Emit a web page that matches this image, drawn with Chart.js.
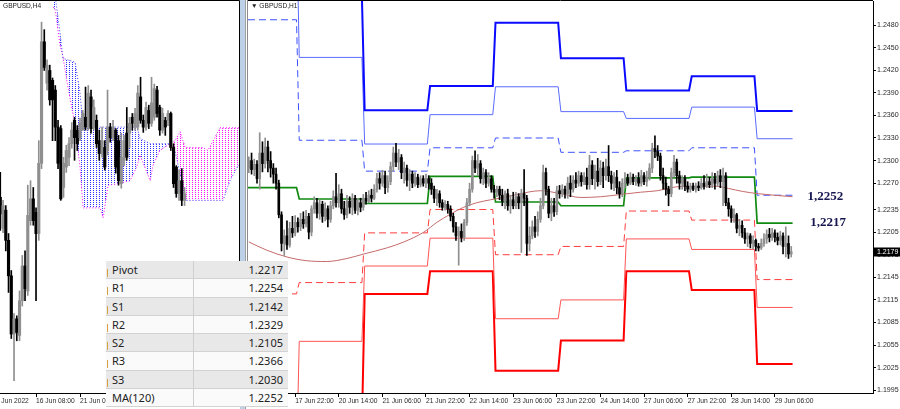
<!DOCTYPE html>
<html><head><meta charset="utf-8">
<script src="https://cdn.jsdelivr.net/npm/chart.js@4.4.1/dist/chart.umd.min.js"></script>
<style>
html,body{margin:0;padding:0;background:#fff;width:900px;height:409px;overflow:hidden;position:relative;font-family:'Liberation Sans',Arial,sans-serif}
canvas{position:absolute;top:0}
#cl{left:0}
#cr{left:246px}
#split{position:absolute;left:240px;top:0;width:5px;height:409px;background:#bcd0e8}
#split2{position:absolute;left:245px;top:0;width:1px;height:409px;background:#a0a0a0}
.ttl{position:absolute;font-size:6.6px;color:#222;white-space:nowrap}
#tbl{position:absolute;left:106px;top:261px;width:182px;font-family:'Noto Sans',sans-serif;font-size:11px;color:#222}
.row{display:flex;height:17.25px;border-bottom:1px solid #d2d2d2;align-items:center}
.row.g{background:#e8e8e8}
.row.w{background:#fafafa}
.c1{width:88px;height:100%;border-right:1px solid #cfcfcf;padding-left:6px;box-sizing:border-box;position:relative;display:flex;align-items:center}
.c1.m::before{content:'';position:absolute;left:1px;top:8px;width:1px;height:8px;background:#d6a043}
.c2{flex:1;text-align:right;padding-right:5px}
</style>
</head><body>
<canvas id="cl" width="240" height="409"></canvas>
<div id="split"></div><div id="split2"></div>
<canvas id="cr" width="654" height="409"></canvas>
<div class="ttl" style="left:3px;top:2px">GBPUSD,H4</div>
<div class="ttl" style="left:251px;top:2px">&#9660; GBPUSD,H1</div>
<div id="tbl"></div>
<script>
// ---------------- DATA ----------------
// Right panel: GBPUSD H1 candles, bar index -17 .. 182 (index 0 = 17 Jun 22:00)
const rFirst = -17;
const rOpen = [1.2290,1.2300,1.2288,1.2295,1.2276,1.2310,1.2296,1.2318,1.2300,1.2290,
1.2282,1.2270,1.2228,1.2190,1.2200,1.2188,1.2210,
1.2204,1.2218,1.2212,1.2222,1.2216,1.2226,1.2205,1.2236,1.2244,1.2230,
1.2242,1.2226,1.2236,1.2222,1.2240,1.2252,1.2244,1.2256,1.2236,1.2228,
1.2246,1.2238,1.2250,1.2234,1.2244,1.2238,1.2250,1.2246,1.2254,1.2250,
1.2262,1.2276,1.2270,1.2280,1.2264,1.2272,1.2292,1.2310,1.2298,1.2304,
1.2284,1.2290,1.2274,1.2282,1.2270,1.2278,1.2268,1.2276,1.2270,1.2276,
1.2270,1.2262,1.2250,1.2256,1.2244,1.2238,1.2242,1.2236,1.2226,1.2212,
1.2200,1.2206,1.2198,1.2218,1.2244,1.2262,1.2300,1.2290,1.2296,1.2276,
1.2284,1.2270,1.2276,1.2262,1.2258,1.2262,1.2254,1.2246,1.2256,1.2240,
1.2248,1.2240,1.2252,1.2244,1.2256,1.2250,1.2190,1.2200,1.2212,1.2206,
1.2222,1.2240,1.2284,1.2262,1.2230,1.2240,1.2232,1.2260,1.2256,1.2262,
1.2256,1.2270,1.2262,1.2274,1.2270,1.2280,1.2272,1.2278,1.2268,1.2294,
1.2276,1.2286,1.2272,1.2290,1.2280,1.2292,1.2280,1.2270,1.2278,1.2264,
1.2256,1.2270,1.2276,1.2270,1.2278,1.2272,1.2276,1.2270,1.2280,1.2272,
1.2278,1.2290,1.2316,1.2312,1.2306,1.2280,1.2270,1.2262,1.2256,1.2284,
1.2298,1.2280,1.2270,1.2276,1.2266,1.2262,1.2266,1.2262,1.2266,1.2264,
1.2270,1.2266,1.2272,1.2268,1.2276,1.2270,1.2280,1.2272,1.2280,1.2244,
1.2236,1.2224,1.2228,1.2210,1.2214,1.2204,1.2196,1.2200,1.2190,1.2194,
1.2186,1.2184,1.2190,1.2196,1.2202,1.2198,1.2204,1.2198,1.2194,1.2200,
1.2186,1.2190,1.2176];
const rHigh = [1.2305,1.2310,1.2302,1.2300,1.2337,1.2325,1.2330,1.2326,1.2312,1.2296,
1.2290,1.2274,1.2232,1.2208,1.2220,1.2218,1.2226,
1.2227,1.2224,1.2230,1.2232,1.2234,1.2230,1.2240,1.2252,1.2250,1.2248,
1.2246,1.2244,1.2240,1.2246,1.2260,1.2283,1.2268,1.2262,1.2246,1.2254,
1.2252,1.2256,1.2254,1.2250,1.2250,1.2255,1.2258,1.2260,1.2262,1.2268,
1.2283,1.2284,1.2287,1.2286,1.2280,1.2298,1.2318,1.2323,1.2315,1.2308,
1.2298,1.2294,1.2288,1.2286,1.2284,1.2282,1.2280,1.2280,1.2282,1.2280,
1.2276,1.2266,1.2262,1.2260,1.2248,1.2247,1.2246,1.2240,1.2230,1.2218,
1.2212,1.2216,1.2222,1.2250,1.2270,1.2306,1.2313,1.2308,1.2300,1.2290,
1.2288,1.2284,1.2280,1.2267,1.2266,1.2266,1.2262,1.2260,1.2262,1.2254,
1.2258,1.2258,1.2256,1.2262,1.2288,1.2254,1.2212,1.2220,1.2226,1.2232,
1.2250,1.2294,1.2290,1.2266,1.2250,1.2250,1.2266,1.2267,1.2268,1.2266,
1.2278,1.2280,1.2280,1.2284,1.2286,1.2284,1.2284,1.2290,1.2307,1.2300,
1.2294,1.2303,1.2300,1.2298,1.2302,1.2320,1.2286,1.2284,1.2287,1.2272,
1.2276,1.2284,1.2282,1.2284,1.2282,1.2280,1.2284,1.2287,1.2284,1.2286,
1.2296,1.2323,1.2333,1.2320,1.2310,1.2290,1.2278,1.2266,1.2290,1.2307,
1.2302,1.2286,1.2280,1.2280,1.2272,1.2270,1.2270,1.2270,1.2272,1.2276,
1.2280,1.2282,1.2278,1.2284,1.2283,1.2286,1.2288,1.2290,1.2284,1.2250,
1.2240,1.2236,1.2230,1.2222,1.2220,1.2210,1.2204,1.2203,1.2200,1.2196,
1.2190,1.2196,1.2203,1.2208,1.2210,1.2210,1.2208,1.2204,1.2206,1.2204,
1.2212,1.2200,1.2186];
const rLow = [1.2284,1.2282,1.2280,1.2270,1.2262,1.2285,1.2290,1.2285,1.2278,1.2270,
1.2262,1.2224,1.2180,1.2174,1.2182,1.2185,1.2198,
1.2200,1.2205,1.2207,1.2210,1.2212,1.2196,1.2200,1.2230,1.2224,1.2222,
1.2218,1.2220,1.2212,1.2218,1.2236,1.2238,1.2238,1.2230,1.2222,1.2224,
1.2230,1.2228,1.2230,1.2228,1.2232,1.2234,1.2242,1.2244,1.2245,1.2248,
1.2258,1.2262,1.2266,1.2256,1.2258,1.2268,1.2286,1.2292,1.2288,1.2276,
1.2270,1.2266,1.2260,1.2264,1.2266,1.2264,1.2265,1.2266,1.2264,1.2262,
1.2255,1.2244,1.2240,1.2238,1.2234,1.2234,1.2230,1.2220,1.2205,1.2194,
1.2161,1.2192,1.2194,1.2214,1.2240,1.2258,1.2284,1.2280,1.2270,1.2268,
1.2264,1.2266,1.2258,1.2250,1.2252,1.2248,1.2240,1.2236,1.2234,1.2230,
1.2236,1.2236,1.2236,1.2178,1.2240,1.2174,1.2180,1.2196,1.2198,1.2200,
1.2218,1.2236,1.2254,1.2224,1.2220,1.2226,1.2228,1.2250,1.2252,1.2250,
1.2250,1.2252,1.2258,1.2264,1.2266,1.2266,1.2268,1.2262,1.2262,1.2268,
1.2262,1.2266,1.2268,1.2264,1.2274,1.2272,1.2262,1.2260,1.2256,1.2250,
1.2252,1.2264,1.2267,1.2268,1.2268,1.2267,1.2266,1.2266,1.2268,1.2266,
1.2274,1.2284,1.2304,1.2300,1.2274,1.2262,1.2254,1.2240,1.2252,1.2278,
1.2270,1.2262,1.2262,1.2260,1.2258,1.2258,1.2260,1.2258,1.2260,1.2262,
1.2262,1.2264,1.2264,1.2264,1.2262,1.2266,1.2264,1.2240,1.2240,1.2226,
1.2218,1.2218,1.2204,1.2200,1.2198,1.2190,1.2186,1.2184,1.2183,1.2180,
1.2180,1.2182,1.2186,1.2190,1.2192,1.2194,1.2192,1.2188,1.2188,1.2176,
1.2172,1.2170,1.2172];
const rClose = [1.2300,1.2288,1.2295,1.2276,1.2310,1.2296,1.2318,1.2300,1.2290,1.2282,
1.2270,1.2228,1.2190,1.2200,1.2188,1.2210,1.2204,
1.2218,1.2212,1.2222,1.2216,1.2226,1.2205,1.2236,1.2244,1.2230,1.2242,
1.2226,1.2236,1.2222,1.2240,1.2252,1.2244,1.2256,1.2236,1.2228,1.2246,
1.2238,1.2250,1.2234,1.2244,1.2238,1.2250,1.2246,1.2254,1.2250,1.2262,
1.2276,1.2270,1.2280,1.2264,1.2272,1.2292,1.2310,1.2298,1.2304,1.2284,
1.2290,1.2274,1.2282,1.2270,1.2278,1.2268,1.2276,1.2270,1.2276,1.2270,
1.2262,1.2250,1.2256,1.2244,1.2238,1.2242,1.2236,1.2226,1.2212,1.2200,
1.2206,1.2198,1.2218,1.2244,1.2262,1.2300,1.2290,1.2296,1.2276,1.2284,
1.2270,1.2276,1.2262,1.2258,1.2262,1.2254,1.2246,1.2256,1.2240,1.2248,
1.2240,1.2252,1.2244,1.2256,1.2250,1.2190,1.2200,1.2212,1.2206,1.2222,
1.2240,1.2284,1.2262,1.2230,1.2240,1.2232,1.2260,1.2256,1.2262,1.2256,
1.2270,1.2262,1.2274,1.2270,1.2280,1.2272,1.2278,1.2268,1.2294,1.2276,
1.2286,1.2272,1.2290,1.2280,1.2292,1.2280,1.2270,1.2278,1.2264,1.2256,
1.2270,1.2276,1.2270,1.2278,1.2272,1.2276,1.2270,1.2280,1.2272,1.2278,
1.2290,1.2316,1.2312,1.2306,1.2280,1.2270,1.2262,1.2256,1.2284,1.2298,
1.2280,1.2270,1.2276,1.2266,1.2262,1.2266,1.2262,1.2266,1.2264,1.2270,
1.2266,1.2272,1.2268,1.2276,1.2270,1.2280,1.2272,1.2280,1.2244,1.2236,
1.2224,1.2228,1.2210,1.2214,1.2204,1.2196,1.2200,1.2190,1.2194,1.2186,
1.2184,1.2190,1.2196,1.2202,1.2198,1.2204,1.2198,1.2194,1.2200,1.2186,
1.2190,1.2176,1.2179];

// Daily pivot levels (day start bar index)
const dayStart = [-17.3, 1.5, 25.5, 49.5, 73.5, 97.5, 121.5, 145.5, 169.5];
const levelEnd = 182.5;
const pivotP = [1.2264,1.2249,1.2243,1.2279,1.2245,1.2240,1.2277,1.2278,1.2217];
const r1 = [1.2487,1.2327,1.2286,1.2317,1.2330,1.2311,1.2313,1.2317,1.2254];
const r2 = [1.2628,1.2437,1.2322,1.2361,1.2398,1.2365,1.2356,1.2371,1.2329];
const r3 = [1.2851,1.2516,1.2367,1.2399,1.2483,1.2436,1.2393,1.2412,1.2366];
const s1 = [1.2123,1.2138,1.2204,1.2235,1.2175,1.2186,1.2233,1.2221,1.2142];
const s2 = [1.1900,1.2060,1.2160,1.2197,1.2090,1.2115,1.2196,1.2182,1.2105];
const s3 = [1.1759,1.1949,1.2123,1.2153,1.2021,1.2061,1.2153,1.2128,1.2030];

// MA(120)
const maX = [-17,-10.4,-3,4.3,11.6,19,25.2,33.6,39.9,47.2,52,57,61.8,66.6,71.8,76.5,81.3,90.1,97.5,104.8,112.1,119.4,126.7,132.9,139.6,147,154.3,159,164.2,170,182.5];
const maV = [1.2192,1.2181,1.2172,1.2167,1.2166,1.2170,1.2176,1.2184,1.2192,1.2205,1.2218,1.2229,1.2238,1.2244,1.2248,1.2251,1.2255,1.2260,1.2256,1.2251,1.2252,1.2255,1.2258,1.2260,1.2265,1.2266,1.2266,1.2263,1.2259,1.2256,1.2252];

const xTickIdx = [0,16,32,48,64,80,96,112,128,144,160,176];
const xTickLabels = ['17 Jun 22:00','20 Jun 14:00','21 Jun 06:00','21 Jun 22:00','22 Jun 14:00','23 Jun 06:00','23 Jun 22:00','24 Jun 14:00','27 Jun 06:00','27 Jun 22:00','28 Jun 14:00','29 Jun 06:00'];
const yTicks = [1.2480,1.2450,1.2420,1.2390,1.2360,1.2330,1.2300,1.2270,1.2235,1.2205,1.2175,1.2145,1.2115,1.2085,1.2055,1.2025,1.1995];
const tagValues = [1.2252, 1.2217];
const tagTexts = ['1,2252', '1,2217'];
const tagIdx = [188, 189];

// Left panel: GBPUSD H4 candles, bar index -13 .. 54 (index 0 = 16 Jun 08:00)
const lFirst = -13;
const lOpen = [1.2174,1.2133,1.2157,1.2117,1.2070,1.1993,1.2013,1.1991,1.2037,1.2083,
1.2050,1.2143,1.2172,
1.2154,1.2126,1.2219,1.2380,1.2325,1.2342,1.2329,1.2316,1.2267,1.2265,
1.2187,1.2214,1.2227,1.2245,1.2276,1.2263,1.2253,1.2263,1.2280,1.2267,
1.2307,1.2267,1.2276,1.2249,1.2232,1.2240,1.2236,1.2267,1.2253,1.2263,
1.2249,1.2192,1.2223,1.2259,1.2259,1.2280,1.2267,1.2267,1.2307,1.2276,
1.2267,1.2289,1.2272,1.2280,1.2316,1.2293,1.2263,1.2276,1.2276,1.2285,
1.2240,1.2214,1.2179,1.2196,1.2170];
const lHigh = [1.2207,1.2170,1.2163,1.2126,1.2077,1.2020,1.2017,1.2050,1.2097,1.2103,
1.2190,1.2196,1.2187,
1.2160,1.2249,1.2406,1.2396,1.2356,1.2349,1.2332,1.2322,1.2276,1.2269,
1.2227,1.2243,1.2253,1.2273,1.2280,1.2269,1.2279,1.2289,1.2320,1.2322,
1.2316,1.2303,1.2283,1.2263,1.2267,1.2249,1.2316,1.2272,1.2276,1.2265,
1.2256,1.2259,1.2256,1.2293,1.2280,1.2285,1.2292,1.2322,1.2333,1.2283,
1.2300,1.2296,1.2333,1.2324,1.2321,1.2296,1.2292,1.2280,1.2289,1.2287,
1.2245,1.2216,1.2210,1.2212,1.2187];
const lLow = [1.2130,1.2127,1.2103,1.2048,1.1987,1.1931,1.1984,1.1984,1.2030,1.2037,
1.2044,1.2137,1.2137,
1.2037,1.2117,1.2212,1.2342,1.2316,1.2296,1.2249,1.2249,1.2212,1.2170,
1.2174,1.2207,1.2216,1.2239,1.2223,1.2236,1.2249,1.2263,1.2263,1.2263,
1.2259,1.2263,1.2240,1.2223,1.2227,1.2210,1.2230,1.2247,1.2249,1.2206,
1.2190,1.2186,1.2216,1.2223,1.2240,1.2263,1.2263,1.2263,1.2272,1.2260,
1.2263,1.2265,1.2268,1.2276,1.2280,1.2256,1.2259,1.2256,1.2269,1.2236,
1.2187,1.2174,1.2170,1.2163,1.2163];
const lClose = [1.2152,1.2163,1.2117,1.2070,1.1993,1.2013,1.1995,1.2037,1.2083,1.2053,
1.2150,1.2172,1.2143,
1.2126,1.2219,1.2380,1.2346,1.2349,1.2303,1.2303,1.2267,1.2219,1.2172,
1.2219,1.2236,1.2245,1.2263,1.2253,1.2245,1.2272,1.2285,1.2267,1.2312,
1.2265,1.2293,1.2245,1.2232,1.2249,1.2214,1.2267,1.2253,1.2267,1.2214,
1.2196,1.2227,1.2249,1.2227,1.2272,1.2272,1.2285,1.2312,1.2276,1.2267,
1.2293,1.2272,1.2299,1.2318,1.2285,1.2263,1.2285,1.2267,1.2285,1.2240,
1.2192,1.2179,1.2196,1.2170,1.2179];

// Ichimoku cloud (Senkou Span A / B), read at these bar positions
const cloudJ = [6.2,7,8.7,9.8,11.6,14.2,16,17.1,23.3,24.4,26.2,29.8,34.2,36.7,37.8,41.5,42.5,45,48.7,50.5,52.4,54.2,60.7,62.5,66.9,68,70.5,73.5,75];
const spanA = [1.2450,1.2440,1.2392,1.2358,1.2356,1.2353,1.2312,1.2267,1.2267,1.2267,1.2267,1.2267,1.2267,1.2267,1.2252,1.2245,1.2245,1.2245,1.2245,1.2236,1.2205,1.2170,1.2170,1.2170,1.2170,1.2170,1.2196,1.2216,1.2216];
const spanB = [1.2426,1.2422,1.2376,1.2360,1.2320,1.2270,1.2214,1.2160,1.2160,1.2147,1.2190,1.2192,1.2196,1.2215,1.2230,1.2196,1.2216,1.2236,1.2245,1.2249,1.2261,1.2240,1.2240,1.2236,1.2266,1.2266,1.2266,1.2266,1.2266];

const lxTickIdx = [-16, 0, 16];
const lxTickLabels = ['13 Jun 2022', '16 Jun 08:00', '21 Jun 00:00'];

// Table
const tableLabels = ['Pivot','R1','S1','R2','S2','R3','S3','MA(120)'];
const tableValues = [1.2217,1.2254,1.2142,1.2329,1.2105,1.2366,1.2030,1.2252];

// ---------------- BUILD ----------------
const BULL = '#8f8f8f', BEAR = '#000000';
const AXIS_FONT = {family:"'Liberation Sans', Arial, sans-serif", size:6.7};

function noPad(s){ s.paddingTop = 0; s.paddingBottom = 0; s.paddingLeft = 0; s.paddingRight = 0; }

function candleSets(first, O, H, L, C, bodyW){
  const col = O.map((o,k)=> C[k] >= o ? BULL : BEAR);
  return [
    {type:'bar', data:O.map((o,k)=>({x:first+k, y:[L[k],H[k]]})), backgroundColor:col, barThickness:1, grouped:false, order:0, borderWidth:0},
    {type:'bar', data:O.map((o,k)=>({x:first+k, y:[Math.min(o,C[k]),Math.max(o,C[k])]})), backgroundColor:col, barThickness:bodyW, minBarLength:1, grouped:false, order:0, borderWidth:0}
  ];
}
function steps(vals){
  const p=[];
  vals.forEach((v,d)=>{
    const s = dayStart[d];
    const e = d < vals.length-1 ? dayStart[d+1]-1 : levelEnd;
    p.push({x:s,y:v},{x:e,y:v});
  });
  return p;
}
function lvl(vals, color, w, dash){
  return {type:'line', data:steps(vals), borderColor:color, borderWidth:w, borderDash:dash||[], pointRadius:0, fill:false, tension:0, order:3};
}
function xAxis(min,max,idx,labels){
  return {type:'linear', min, max, offset:false, position:'bottom',
    afterBuildTicks: s=>{ s.ticks = idx.map(v=>({value:v})); },
    afterFit: s=>{ s.height = 16; noPad(s); },
    ticks:{autoSkip:false, maxRotation:0, minRotation:0, align:'start', padding:0, color:'#2a2a2a', font:AXIS_FONT,
      callback:(v,i)=>labels[i]},
    grid:{display:true, drawOnChartArea:false, drawTicks:true, tickLength:4, color:'#000', offset:false},
    border:{display:true, color:'#000'}};
}

// Right chart
const frameR = {id:'frameR', afterDraw(c){
  const ctx=c.ctx, a=c.chartArea, ys=c.scales.y, xs=c.scales.x;
  ctx.save();
  ctx.strokeStyle='#000'; ctx.lineWidth=1;
  ctx.beginPath(); ctx.moveTo(a.left, a.top-0.5); ctx.lineTo(a.right, a.top-0.5); ctx.stroke();
  ctx.strokeStyle='#8a8a8a';
  ctx.beginPath(); ctx.moveTo(a.left-0.5, 0); ctx.lineTo(a.left-0.5, a.bottom); ctx.stroke();
  // level tags
  ctx.fillStyle='#161650'; ctx.font="bold 13px 'Liberation Serif', 'Times New Roman', serif"; ctx.textBaseline='middle'; ctx.textAlign='left';
  tagValues.forEach((v,k)=>{ ctx.fillText(tagTexts[k], xs.getPixelForValue(tagIdx[k]), ys.getPixelForValue(v)); });
  // current price box
  const last = rClose[rClose.length-1];
  const py = Math.round(ys.getPixelForValue(last));
  ctx.fillStyle='#000'; ctx.fillRect(a.right+1, py-4.5, c.width-a.right-1, 9);
  ctx.fillStyle='#fff'; ctx.font="7px 'Liberation Sans', Arial, sans-serif"; ctx.textBaseline='middle';
  ctx.fillText(last.toFixed(4), a.right+4, py+0.5);
  ctx.restore();
}};

const rDatasets = [
  ...candleSets(rFirst, rOpen, rHigh, rLow, rClose, 2),
  {type:'line', data:maX.map((x,k)=>({x, y:maV[k]})), borderColor:'#c56a6a', borderWidth:1, pointRadius:0, fill:false, cubicInterpolationMode:'monotone', order:2},
  lvl(r3,'#0a0aff',2), lvl(r2,'#5a6aff',1), lvl(r1,'#3d52ff',1,[7,4]),
  lvl(pivotP,'#118a11',1.7),
  lvl(s1,'#ff3c3c',1,[7,4]), lvl(s2,'#ff5555',1), lvl(s3,'#ff0000',2)
];

new Chart(document.getElementById('cr'), {
  type:'bar',
  data:{datasets:rDatasets},
  options:{responsive:false, animation:false, devicePixelRatio:1,
    layout:{padding:{left:2, top:1, right:0, bottom:0}},
    plugins:{legend:{display:false}, tooltip:{enabled:false}},
    scales:{
      x: xAxis(-17.3, 212.0, xTickIdx, xTickLabels),
      y: {type:'linear', position:'right', min:1.19914, max:1.25119,
        afterBuildTicks: s=>{ s.ticks = yTicks.map(v=>({value:v})); },
        afterFit: s=>{ s.width = 27; noPad(s); },
        ticks:{padding:1, color:'#2a2a2a', font:{family:AXIS_FONT.family, size:7.1}, callback:v=>Number(v).toFixed(4)},
        grid:{display:true, drawOnChartArea:false, drawTicks:true, tickLength:3, color:'#000'},
        border:{display:true, color:'#000'}}
    }},
  plugins:[frameR]
});

// Left chart
const lctx = document.getElementById('cl').getContext('2d');
function dotPattern(color){
  const c=document.createElement('canvas'); c.width=3; c.height=2;
  const g=c.getContext('2d'); g.fillStyle=color; g.fillRect(0,0,1,1);
  return lctx.createPattern(c,'repeat');
}
const frameL = {id:'frameL', afterDraw(c){
  const ctx=c.ctx, a=c.chartArea;
  ctx.save(); ctx.strokeStyle='#000'; ctx.lineWidth=1;
  ctx.beginPath(); ctx.moveTo(0, a.top-0.5); ctx.lineTo(a.right+0.5, a.top-0.5); ctx.lineTo(a.right+0.5, a.bottom); ctx.stroke();
  ctx.restore();
}};
const lDatasets = [
  ...candleSets(lFirst, lOpen, lHigh, lLow, lClose, 2.5),
  {type:'line', data:cloudJ.map((x,k)=>({x, y:spanA[k]})), borderColor:'#3a3aff', borderWidth:1, borderDash:[1,2], pointRadius:0, tension:0, order:5,
    fill:{target:'+1', above:dotPattern('#2f2fff'), below:dotPattern('#ff10ff')}},
  {type:'line', data:cloudJ.map((x,k)=>({x, y:spanB[k]})), borderColor:'#ff00ff', borderWidth:1, borderDash:[1,2], pointRadius:0, tension:0, order:6, fill:false}
];
new Chart(lctx, {
  type:'bar',
  data:{datasets:lDatasets},
  options:{responsive:false, animation:false, devicePixelRatio:1,
    layout:{padding:{left:0, top:1, right:1, bottom:0}},
    plugins:{legend:{display:false}, tooltip:{enabled:false}},
    scales:{
      x: xAxis(-13.1, 73.8, lxTickIdx, lxTickLabels),
      y: {type:'linear', display:false, min:1.19148, max:1.2434, afterFit: noPad}
    }},
  plugins:[frameL]
});

// Table
const tbl = document.getElementById('tbl');
tableLabels.forEach((lab,k)=>{
  const row = document.createElement('div');
  row.className = 'row ' + (k%2===0 ? 'g' : 'w');
  const c1 = document.createElement('div'); c1.className = 'c1' + (k<7 ? ' m' : ''); c1.textContent = lab;
  const c2 = document.createElement('div'); c2.className = 'c2'; c2.textContent = tableValues[k].toFixed(4);
  row.appendChild(c1); row.appendChild(c2); tbl.appendChild(row);
});
</script>
</body></html>
